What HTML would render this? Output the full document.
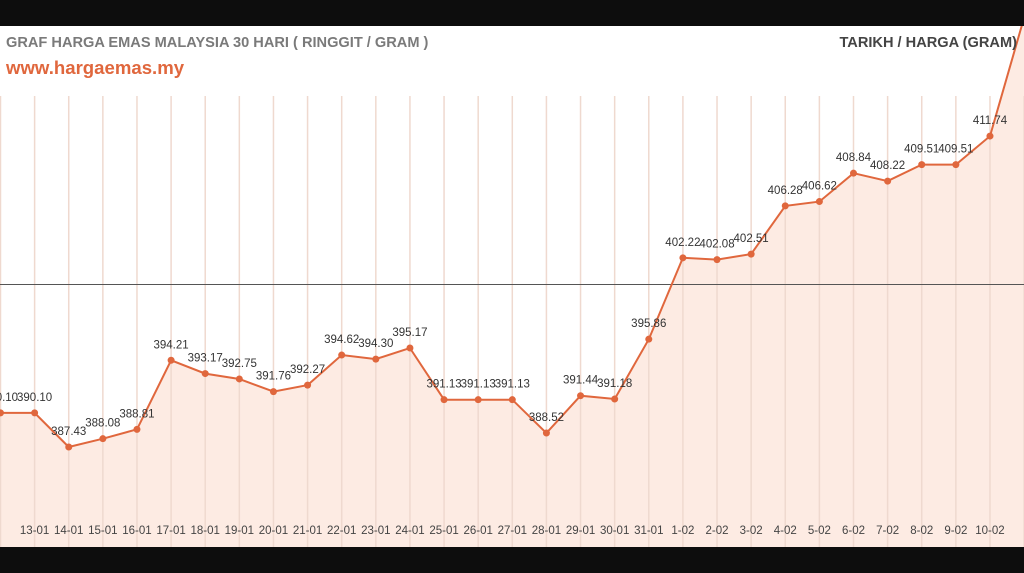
<!DOCTYPE html>
<html><head><meta charset="utf-8"><style>
html,body{margin:0;padding:0;background:#0d0d0d;}
#wrap{position:relative;width:1024px;height:573px;overflow:hidden;background:#0d0d0d;font-family:"Liberation Sans",sans-serif;}
svg{position:absolute;left:0;top:0;}
</style></head><body>
<div id="wrap">
<svg id="chart" width="1024" height="573"></svg>
</div>
<script>
const dates=["12-01","13-01","14-01","15-01","16-01","17-01","18-01","19-01","20-01","21-01","22-01","23-01","24-01","25-01","26-01","27-01","28-01","29-01","30-01","31-01","1-02","2-02","3-02","4-02","5-02","6-02","7-02","8-02","9-02","10-02","11-02"];
const prices=[390.10,390.10,387.43,388.08,388.81,394.21,393.17,392.75,391.76,392.27,394.62,394.30,395.17,391.13,391.13,391.13,388.52,391.44,391.18,395.86,402.22,402.08,402.51,406.28,406.62,408.84,408.22,409.51,409.51,411.74,421.0];
const showLabel=prices.map((v,i)=>i<prices.length-1);
const NS="http://www.w3.org/2000/svg";
const svg=document.getElementById('chart');
const x=i=>0.5+i*34.12;
const y=v=>447-(v-387.43)*12.79;
function mk(t,a,p){const e=document.createElementNS(NS,t);for(const k in a)e.setAttribute(k,a[k]);(p||svg).appendChild(e);return e;}
const clip=mk('clipPath',{id:'cp'});
mk('rect',{x:0,y:26,width:1024,height:521},clip);
const bg=mk('rect',{x:0,y:26,width:1024,height:521,fill:'#ffffff'});


const g=mk('g',{'clip-path':'url(#cp)'});
let pts=prices.map((v,i)=>x(i).toFixed(1)+','+y(v).toFixed(1));
const area=mk('polygon',{points:pts.join(' ')+' '+x(prices.length-1)+',547 '+x(0)+',547',fill:'#fdebe3'},g);


dates.forEach((d,i)=>{
  const l=mk('line',{x1:x(i),x2:x(i),y1:96,y2:547,stroke:'#efd9cf','stroke-width':'1.5'},g);
  
  
});
const hl=mk('line',{x1:0,x2:1024,y1:284.5,y2:284.5,stroke:'#555','stroke-width':'1'},g);


const pl=mk('polyline',{points:pts.join(' '),fill:'none',stroke:'#e0673d','stroke-width':'2'},g);


prices.forEach((v,i)=>{
  if(i<prices.length-1){
    const c=mk('circle',{cx:x(i),cy:y(v),r:3.5,fill:'#e0673d'},g);
    
    
  }
  if(showLabel[i]){
    const t=mk('text',{x:x(i),y:y(v)-12,'text-anchor':'middle','font-size':'11.5','fill':'#333'});
    t.textContent=v.toFixed(2);
    
    
  }
  if(i>0&&i<prices.length-1){
    const t=mk('text',{x:x(i),y:534,'text-anchor':'middle','font-size':'11.5','fill':'#444'});
    t.textContent=dates[i];
    
    
  }
});
const t1=mk('text',{x:6,y:47,'font-size':'14.6','font-weight':'bold',fill:'#7a7a7a'});
t1.textContent='GRAF HARGA EMAS MALAYSIA 30 HARI ( RINGGIT / GRAM )';


const t2=mk('text',{x:6,y:74,'font-size':'18.6','font-weight':'bold',fill:'#e0673d'});
t2.textContent='www.hargaemas.my';


const t3=mk('text',{x:1017,y:47,'font-size':'14.6','font-weight':'bold',fill:'#444','text-anchor':'end'});
t3.textContent='TARIKH / HARGA (GRAM)';


</script>
</body></html>
